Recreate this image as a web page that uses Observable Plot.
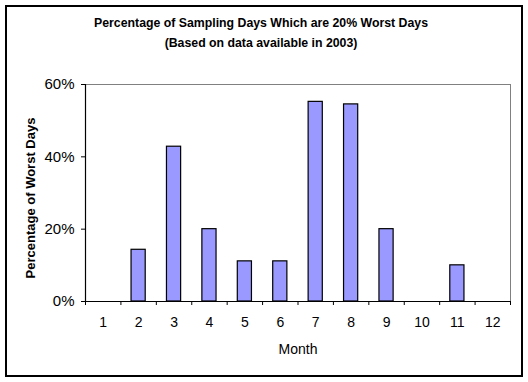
<!DOCTYPE html>
<html>
<head>
<meta charset="utf-8">
<script src="https://cdn.jsdelivr.net/npm/d3@7"></script>
<script src="https://cdn.jsdelivr.net/npm/@observablehq/plot@0.6"></script>
<style>
  html, body { margin: 0; padding: 0; background: #fff; }
  #wrap { position: relative; width: 528px; height: 382px; }
  #frame { position: absolute; left: 5px; top: 5px; width: 514px; height: 368px; border: 2px solid #000; pointer-events: none; }
</style>
</head>
<body>
<div id="wrap"><div id="frame"></div></div>
<script>
const months = [1, 2, 3, 4, 5, 6, 7, 8, 9, 10, 11, 12];
const values = [0, 0.143, 0.428, 0.20, 0.111, 0.111, 0.552, 0.545, 0.20, 0, 0.10, 0];
const yTicks = [0, 0.2, 0.4, 0.6];
const titleLines = ["Percentage of Sampling Days Which are 20% Worst Days", "(Based on data available in 2003)"];
const xLabel = "Month";
const yLabel = "Percentage of Worst Days";

const data = months.map((m, i) => ({month: m, value: values[i]}));
const boundaries = months.map(m => m - 0.5).concat([months[months.length - 1] + 0.5]);
const font = "'Liberation Sans', Arial, sans-serif";

const chart = Plot.plot({
  width: 528,
  height: 382,
  marginLeft: 85,
  marginRight: 18,
  marginTop: 84,
  marginBottom: 81,
  style: {fontFamily: font, background: "transparent", color: "#000"},
  x: {type: "linear", domain: [0.5, 12.5]},
  y: {domain: [0, 0.6]},
  marks: [
    Plot.frame({stroke: "#808080"}),
    Plot.rectY(data.filter(d => d.value > 0), {
      x1: d => d.month - 0.2,
      x2: d => d.month + 0.2,
      y: "value",
      fill: "#9999FF",
      stroke: "#000",
      strokeWidth: 1.2
    }),
    Plot.ruleY([0], {stroke: "#000", strokeWidth: 1.2}),
    Plot.ruleX([0.5], {stroke: "#000", strokeWidth: 1.2}),
    Plot.axisX({ticks: boundaries, tickFormat: () => "", tickSize: 4, stroke: "#000", label: null}),
    Plot.axisX({ticks: months, tickFormat: d => String(d), tickSize: 0, tickPadding: 16, fontSize: 14, label: null, fill: "#000"}),
    Plot.axisY({ticks: yTicks, tickFormat: d3.format(".0%"), tickSize: 4, tickPadding: 7, fontSize: 15, label: null, fill: "#000"}),
    Plot.text([xLabel], {frameAnchor: "bottom", lineAnchor: "top", dy: 43, fontSize: 14, fill: "#000"}),
    Plot.text([yLabel], {frameAnchor: "left", textAnchor: "middle", rotate: -90, dx: -55, dy: 5, fontSize: 13, fontWeight: "bold", fill: "#000"}),
    Plot.text([titleLines[0]], {frameAnchor: "top", lineAnchor: "top", dx: -37, dy: -66, fontSize: 12.3, fontWeight: "bold", fill: "#000"}),
    Plot.text([titleLines[1]], {frameAnchor: "top", lineAnchor: "top", dx: -37, dy: -46, fontSize: 12.3, fontWeight: "bold", fill: "#000"})
  ]
});
document.getElementById("wrap").prepend(chart);
</script>
</body>
</html>
